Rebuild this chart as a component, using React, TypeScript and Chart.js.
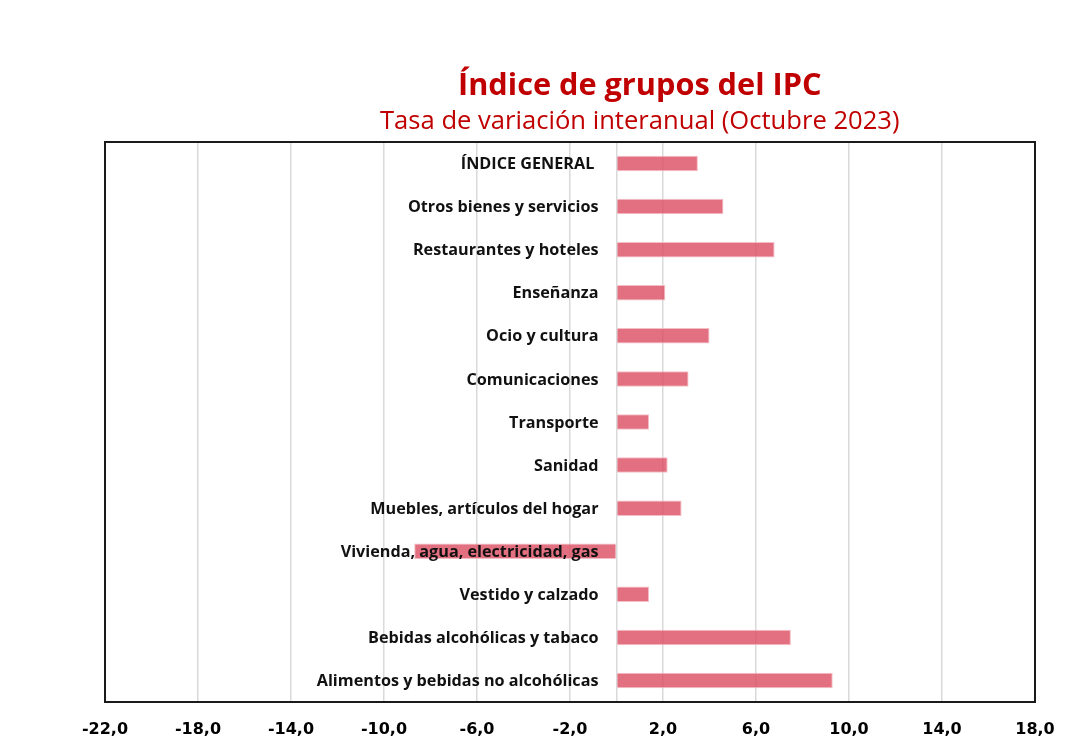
import React, { useEffect, useRef } from "react";
import { Chart, registerables } from "chart.js";

Chart.register(...registerables);

const categories = [
  "ÍNDICE GENERAL ",
  "Otros bienes y servicios",
  "Restaurantes y hoteles",
  "Enseñanza",
  "Ocio y cultura",
  "Comunicaciones",
  "Transporte",
  "Sanidad",
  "Muebles, artículos del hogar",
  "Vivienda, agua, electricidad, gas",
  "Vestido y calzado",
  "Bebidas alcohólicas y tabaco",
  "Alimentos y bebidas no alcohólicas",
];

const rates = [3.5, 4.6, 6.8, 2.1, 4.0, 3.1, 1.4, 2.2, 2.8, -8.7, 1.4, 7.5, 9.3];

const titleText = "Índice de grupos del IPC";
const subtitleText = "Tasa de variación interanual (Octubre 2023)";

const xMin = -22;
const xMax = 18;
const xStep = 4;

const formatTick = (v: number) => (v === 0 ? "" : v.toFixed(1).replace(".", ","));

const framePlugin = {
  id: "frameAndTitles",
  afterDatasetsDraw(chart: any) {
    const { ctx, scales } = chart;
    const xs = scales.x;
    const ys = scales.y;
    const labels = chart.data.labels as string[];
    ctx.save();
    ctx.fillStyle = "#111";
    ctx.textAlign = "right";
    ctx.textBaseline = "middle";
    ctx.font = 'bold 16.2px "Open Sans", sans-serif';
    const x0 = xs.getPixelForValue(0) - 18;
    labels.forEach((lab, i) => {
      ctx.fillText(lab, x0, ys.getPixelForTick(i) + 1);
    });
    ctx.restore();
  },
  afterDraw(chart: any) {
    const { ctx, chartArea } = chart;
    ctx.save();
    ctx.strokeStyle = "#1a1a1a";
    ctx.lineWidth = 2;
    ctx.strokeRect(
      chartArea.left,
      chartArea.top,
      chartArea.right - chartArea.left,
      chartArea.bottom - chartArea.top
    );
    const cx = chartArea.left + (chartArea.right - chartArea.left) * 0.575;
    ctx.fillStyle = "#C00000";
    ctx.textAlign = "center";
    ctx.textBaseline = "middle";
    ctx.font = 'bold 30.7px "Open Sans", sans-serif';
    ctx.fillText(titleText, cx, chartArea.top - 56);
    ctx.font = '25.6px "Open Sans", sans-serif';
    ctx.fillText(subtitleText, cx, chartArea.top - 20);
    ctx.restore();
  },
};

const W = 1056;
const H = 740;

export default function App() {
  const canvasRef = useRef<HTMLCanvasElement | null>(null);

  useEffect(() => {
    if (!canvasRef.current) return;
    const chart = new Chart(canvasRef.current, {
      type: "bar",
      data: {
        labels: categories,
        datasets: [
          {
            data: rates,
            backgroundColor: "rgba(220, 76, 98, 0.8)",
            borderColor: "rgba(245, 190, 198, 1)",
            borderWidth: 1,
            categoryPercentage: 1,
            barPercentage: 0.36,
          },
        ],
      },
      options: {
        indexAxis: "y",
        animation: false,
        responsive: false,
        devicePixelRatio: 1,
        layout: { padding: { left: 97, right: 29, top: 134, bottom: 12 } },
        plugins: {
          legend: { display: false },
          tooltip: { enabled: false },
          title: { display: false },
        },
        scales: {
          x: {
            type: "linear",
            min: xMin,
            max: xMax,
            afterBuildTicks: (axis: any) => {
              if (!axis.ticks.some((t: any) => t.value === 0)) {
                axis.ticks.push({ value: 0 });
                axis.ticks.sort((a: any, b: any) => a.value - b.value);
              }
            },
            afterFit: (scale: any) => {
              scale.paddingLeft = 0;
              scale.paddingRight = 0;
              scale.height = 34;
            },
            ticks: {
              stepSize: xStep,
              autoSkip: false,
              maxRotation: 0,
              callback: (v: any) => formatTick(Number(v)),
              color: "#000",
              font: { family: '"DejaVu Sans", sans-serif', weight: "bold", size: 16 },
              padding: 18,
            },
            grid: { color: "#d9d9d9", lineWidth: 1.5, drawTicks: false },
            border: { display: false },
          },
          y: {
            type: "category",
            display: false,
          },
        },
      },
      plugins: [framePlugin],
    });
    return () => chart.destroy();
  }, []);

  return (
    <div
      style={{
        width: W,
        height: H,
        position: "relative",
        background: "#fff",
        boxShadow: "0 0 0 1px #ececec",
      }}
    >
      <canvas ref={canvasRef} width={W} height={H} style={{ display: "block", width: W, height: H }} />
    </div>
  );
}
